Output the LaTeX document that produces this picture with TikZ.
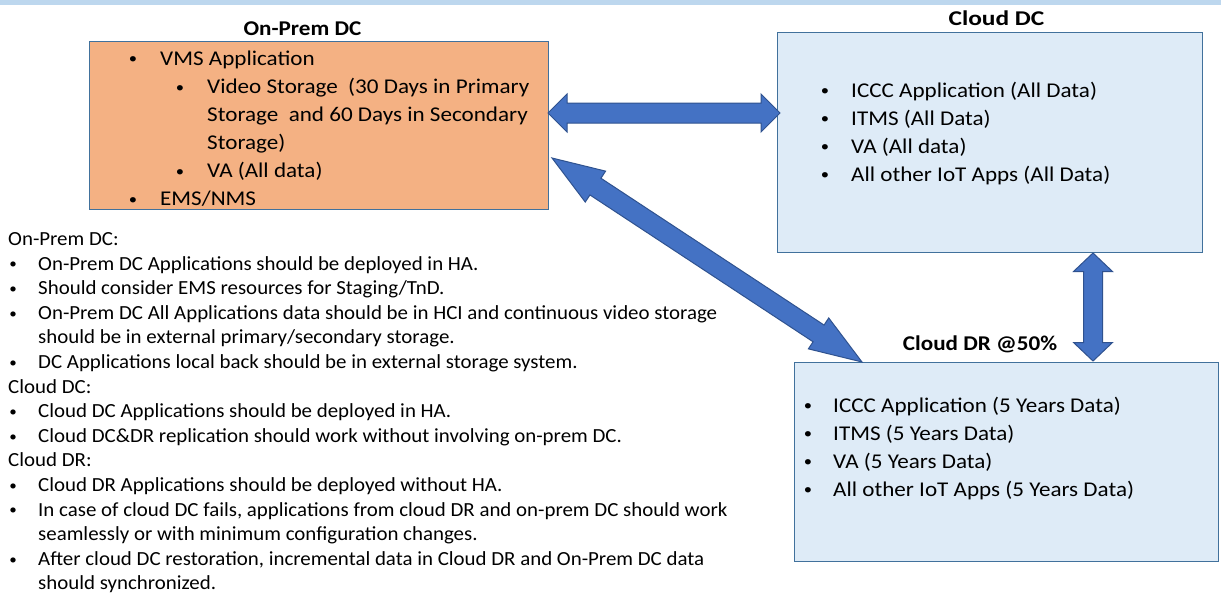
\documentclass[tikz,border=0pt]{standalone}
\usepackage{fontspec}
\setmainfont{Carlito}
\usetikzlibrary{calc}
\definecolor{orangefill}{HTML}{F4B183}
\definecolor{boxline}{HTML}{41719C}
\definecolor{bluefill}{HTML}{DEEBF7}
\definecolor{arrowfill}{HTML}{4472C4}
\definecolor{arrowline}{HTML}{2F528F}
\definecolor{strip}{HTML}{BDD7EE}
\tikzset{
  box/.style={draw=boxline, line width=1.2pt, anchor=north west, inner sep=0pt},
  lt/.style={font=\fontsize{20}{24}\selectfont, anchor=base west, inner sep=0pt, xscale=1.045},
  bt/.style={font=\fontsize{21}{25}\selectfont, anchor=base west, inner sep=0pt, xscale=1.1},
  ttl/.style={font=\fontsize{21}{25}\selectfont\bfseries, anchor=base, inner sep=0pt, xscale=1.1},
  blockarrowstyle/.style={fill=arrowfill, draw=arrowline, line width=1pt, line join=miter}
}
\newcommand\smallbullet{\raisebox{0.06em}{\scalebox{0.72}{\textbullet}}}
% #1 style, #2 name, #3 bullet x, #4 text x, #5 baseline y, #6 text
\newcommand\bitem[6]{%
  \node[#1, anchor=base] (#2b) at (#3,#5) {\smallbullet};
  \node[#1] (#2) at (#4,#5) {#6};}
% #1 from, #2 to, #3 head length, #4 half head width, #5 half shaft width
\newcommand\blockarrow[5]{%
  \coordinate (pa) at ($(#1)!#3!(#2)$);
  \coordinate (pb) at ($(#2)!#3!(#1)$);
  \draw[blockarrowstyle] (#1)
   -- ($(pa)!#4!90:(#2)$) -- ($(pa)!#5!90:(#2)$)
   -- ($(pb)!#5!-90:(#1)$) -- ($(pb)!#4!-90:(#1)$)
   -- (#2)
   -- ($(pb)!#4!90:(#1)$) -- ($(pb)!#5!90:(#1)$)
   -- ($(pa)!#5!-90:(#2)$) -- ($(pa)!#4!-90:(#2)$)
   -- cycle;}
\begin{document}
\begin{tikzpicture}[x=1pt,y=-1pt]
\useasboundingbox (0,0) rectangle (1221,595);
\fill[strip] (0,0) rectangle (1221,4.5);

% boxes
\node[box, fill=orangefill, minimum width=459pt, minimum height=168pt] (onprem) at (89,41) {};
\node[box, fill=bluefill, minimum width=425pt, minimum height=220pt] (clouddc) at (777,32) {};
\node[box, fill=bluefill, minimum width=424pt, minimum height=199pt] (clouddr) at (794,362) {};

% titles
\node[ttl] (tonprem) at (302.5,35) {On-Prem DC};
\node[ttl, xscale=1.1] (tclouddc) at (996.5,25) {Cloud DC};
\node[ttl] (tclouddr) at (980,350) {Cloud DR @50\%};

% On-Prem box text
\bitem{bt}{op1}{133}{160}{65}{VMS Application}
\bitem{bt}{op2}{180}{207}{93.5}{Video Storage\ \ (30 Days in Primary}
\node[bt] (op3) at (207,121.5) {Storage\ \ and 60 Days in Secondary};
\node[bt] (op4) at (207,149.5) {Storage)};
\bitem{bt}{op5}{180}{207}{177.5}{VA (All data)}
\bitem{bt}{op6}{133}{160}{205.5}{EMS/NMS}

% Cloud DC box text
\bitem{bt}{cd1}{825}{851}{97}{ICCC Application (All Data)}
\bitem{bt}{cd2}{825}{851}{125}{ITMS (All Data)}
\bitem{bt}{cd3}{825}{851}{153}{VA (All data)}
\bitem{bt}{cd4}{825}{851}{181}{All other IoT Apps (All Data)}

% Cloud DR box text
\bitem{bt}{dr1}{808}{833}{412}{ICCC Application (5 Years Data)}
\bitem{bt}{dr2}{808}{833}{440}{ITMS (5 Years Data)}
\bitem{bt}{dr3}{808}{833}{468}{VA (5 Years Data)}
\bitem{bt}{dr4}{808}{833}{496}{All other IoT Apps (5 Years Data)}

% left notes
\node[lt] (n0) at (8,245.5) {On-Prem DC:};
\bitem{lt}{n1}{13}{38}{270.1}{On-Prem DC Applications should be deployed in HA.}
\bitem{lt}{n2}{13}{38}{294.7}{Should consider EMS resources for Staging/TnD.}
\bitem{lt}{n3}{13}{38}{319.3}{On-Prem DC All Applications data should be in HCI and continuous video storage}
\node[lt] (n4) at (38,343.9) {should be in external primary/secondary storage.};
\bitem{lt}{n5}{13}{38}{368.5}{DC Applications local back should be in external storage system.}
\node[lt] (n6) at (8,393.1) {Cloud DC:};
\bitem{lt}{n7}{13}{38}{417.7}{Cloud DC Applications should be deployed in HA.}
\bitem{lt}{n8}{13}{38}{442.3}{Cloud DC\&DR replication should work without involving on-prem DC.}
\node[lt] (n9) at (8,466.9) {Cloud DR:};
\bitem{lt}{n10}{13}{38}{491.5}{Cloud DR Applications should be deployed without HA.}
\bitem{lt}{n11}{13}{38}{516.1}{In case of cloud DC fails, applications from cloud DR and on-prem DC should work}
\node[lt] (n12) at (38,540.7) {seamlessly or with minimum configuration changes.};
\bitem{lt}{n13}{13}{38}{565.3}{After cloud DC restoration, incremental data in Cloud DR and On-Prem DC data}
\node[lt] (n14) at (38,589.9) {should synchronized.};

% arrow end points
\coordinate (hA) at (548,113);
\coordinate (hB) at (780,113);
\coordinate (vA) at (1093,253);
\coordinate (vB) at (1093,361);
\coordinate (dA) at (552,158);
\coordinate (dB) at (862,362);

\blockarrow{hA}{hB}{19pt}{19pt}{10pt}
\blockarrow{vA}{vB}{18.5pt}{19.5pt}{9.5pt}
\blockarrow{dA}{dB}{52pt}{18.5pt}{10pt}
\end{tikzpicture}
\end{document}
